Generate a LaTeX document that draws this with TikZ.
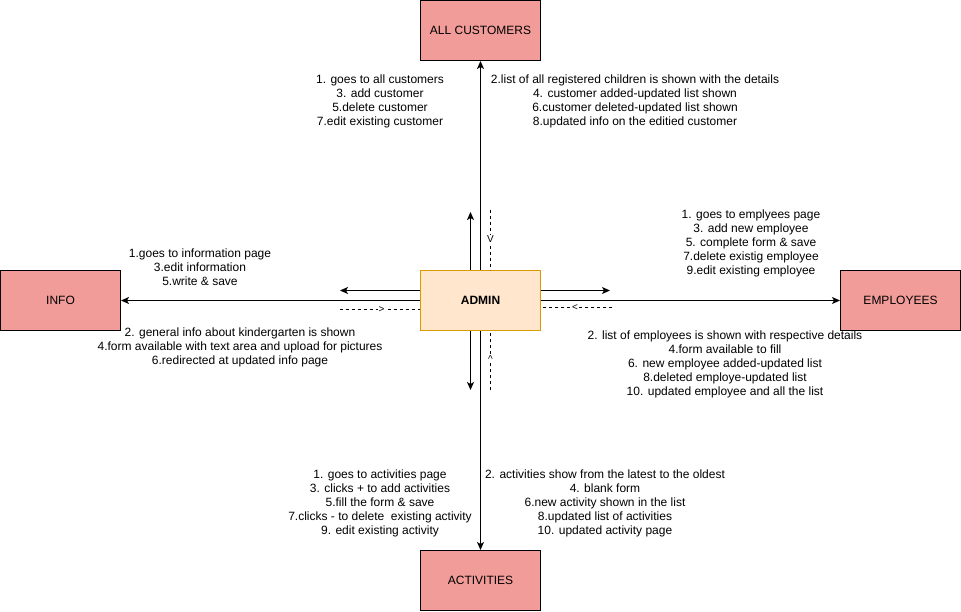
\documentclass[tikz,border=0pt]{standalone}
\usepackage{fontspec}
\setmainfont{Liberation Sans}
\usetikzlibrary{arrows.meta,positioning}
\definecolor{pagebox}{HTML}{F19C99}
\definecolor{adminfill}{HTML}{FFE6CC}
\definecolor{adminline}{HTML}{D79B00}
\tikzset{
    pagenode/.style={draw=black, fill=pagebox, line width=1pt, minimum width=120pt,
        minimum height=60pt, inner sep=0pt, font=\fontsize{12}{14}\selectfont},
    adminnode/.style={pagenode, draw=adminline, fill=adminfill, font=\fontsize{12}{14}\selectfont\bfseries},
    flow/.style={line width=1pt, -{Stealth[length=8pt,width=7pt,inset=2pt]}},
    back/.style={line width=0.8pt, dash pattern=on 3pt off 3pt},
    steps/.style={align=center, inner sep=0pt, font=\fontsize{12}{14}\selectfont},
    mark label/.style={fill=white, inner sep=0.5pt, font=\fontsize{10}{12}\selectfont}
}

\begin{document}
\begin{tikzpicture}[x=1pt, y=-1pt]
    \useasboundingbox (0,0) rectangle (961,612);

    \node[adminnode] (admin) at (480.5,300.5) {ADMIN};
    \node[pagenode] (cust) at (480.5,30.5) {ALL CUSTOMERS};
    \node[pagenode] (info) at (60.5,300.5) {INFO};
    \node[pagenode] (emp) at (900.5,300.5) {EMPLOYEES};
    \node[pagenode] (act) at (480.5,580.5) {ACTIVITIES};

    \draw[flow] (admin) -- (cust);
    \draw[flow] (admin) -- (act);
    \draw[flow] (admin) -- (info);
    \draw[flow] (admin) -- (emp);

    % short arrows and dashed returns
    \coordinate (upend) at (470.5,212);
    \coordinate (downend) at (470.5,390);
    \coordinate (leftend) at (340,290.5);
    \coordinate (rightend) at (610,290.5);
    \coordinate (vtop) at (490.5,210);
    \coordinate (vbot) at (490.5,390);
    \coordinate (hleft) at (340,309.5);
    \coordinate (hright) at (612,307.5);

    \draw[flow] (admin.north -| upend) -- (upend);
    \draw[flow] (admin.south -| downend) -- (downend);
    \draw[flow] (admin.west |- leftend) -- (leftend);
    \draw[flow] (admin.east |- rightend) -- (rightend);

    \draw[back] (vtop) -- (admin.north -| vtop) node[pos=0.48, mark label] {V};
    \draw[back] (vbot) -- (admin.south -| vbot) node[pos=0.52, mark label] {\textasciicircum};
    \draw[back] (hleft) -- (admin.west |- hleft) node[pos=0.52, mark label] {>};
    \draw[back] (hright) -- (admin.east |- hright) node[pos=0.52, mark label] {<};

    \node[steps] (custdo) at (380,101) {1. goes to all customers\\3. add customer\\5.delete customer\\7.edit existing customer};
    \node[steps] (custsee) at (635,101) {2.list of all registered children is shown with the details\\4. customer added-updated list shown\\6.customer deleted-updated list shown\\8.updated info on the editied customer};
    \node[steps] (infodo) at (200,267) {1.goes to information page\\3.edit information\\5.write \& save};
    \node[steps] (infosee) at (240,347) {2. general info about kindergarten is shown\\4.form available with text area and upload for pictures\\6.redirected at updated info page};
    \node[steps] (empdo) at (751,243) {1. goes to emplyees page\\3. add new employee\\5. complete form \& save\\7.delete existig employee\\9.edit existing employee};
    \node[steps] (empsee) at (725,364) {2. list of employees is shown with respective details\\4.form available to fill\\6. new employee added-updated list\\8.deleted employe-updated list\\10. updated employee and all the list};
    \node[steps] (actdo) at (380,503) {1. goes to activities page\\3. clicks + to add activities\\5.fill the form \& save\\7.clicks - to delete\ \ existing activity\\9. edit existing activity};
    \node[steps] (actsee) at (605,503) {2. activities show from the latest to the oldest\\4. blank form\\6.new activity shown in the list\\8.updated list of activities\\10. updated activity page};
\end{tikzpicture}
\end{document}
